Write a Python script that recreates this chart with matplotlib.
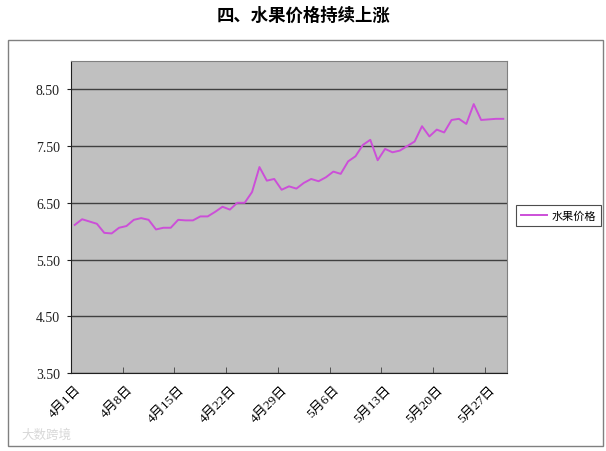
import numpy as np
import matplotlib.pyplot as plt
from matplotlib.patches import Rectangle

plt.rcParams['font.family'] = ['Liberation Serif', 'Noto Sans CJK SC', 'DejaVu Sans']

title = '四、水果价格持续上涨'
series_name = '水果价格'
tick_labels = ['4月1日', '4月8日', '4月15日', '4月22日', '4月29日',
               '5月6日', '5月13日', '5月20日', '5月27日']
prices = [6.11, 6.21, 6.17, 6.13, 5.97, 5.96, 6.06, 6.09, 6.20, 6.23,
          6.20, 6.03, 6.06, 6.06, 6.20, 6.19, 6.19, 6.26, 6.26, 6.34,
          6.43, 6.38, 6.50, 6.50, 6.69, 7.13, 6.89, 6.92, 6.73, 6.79,
          6.75, 6.85, 6.92, 6.88, 6.95, 7.05, 7.01, 7.23, 7.32, 7.52,
          7.61, 7.25, 7.45, 7.39, 7.42, 7.50, 7.58, 7.85, 7.67, 7.79,
          7.74, 7.96, 7.98, 7.89, 8.24, 7.96, 7.97, 7.98, 7.98]
yticks = [3.5, 4.5, 5.5, 6.5, 7.5, 8.5]

fig = plt.figure(figsize=(6.06, 4.52), dpi=100)
fig.patches.append(Rectangle((0.0132, 0.011), 0.9818, 0.898, transform=fig.transFigure,
                             fill=False, edgecolor='#808080', linewidth=1))
fig.text(0.5, 0.965, title, ha='center', va='center', fontsize=12.5,
         fontweight='bold', family=['Noto Sans CJK SC', 'DejaVu Sans'])

ax = fig.add_axes([0.1172, 0.1726, 0.7194, 0.6903])
ax.set_facecolor('#C0C0C0')

x = np.arange(len(prices))
ax.plot(x, prices, color='#CC4FD8', linewidth=1.4, label=series_name)

ax.set_xlim(-0.5, len(prices) - 0.5)
ax.set_ylim(3.5, 9.0)
ax.set_yticks(yticks)
ax.set_yticklabels(['%.2f' % v for v in yticks], fontsize=10)
ax.yaxis.grid(True, color='#404040', linewidth=1)
ax.set_axisbelow(True)
ax.tick_params(axis='y', direction='out', length=3, pad=5, colors='#202020')

ax.set_xticks(np.arange(0, len(prices), 7))
ax.set_xticklabels(tick_labels, rotation=45, ha='right', va='top',
                   rotation_mode='anchor', fontsize=9.5)
ax.tick_params(axis='x', which='major', length=0, pad=7)
ax.set_xticks(np.arange(6.5, len(prices) - 1, 7), minor=True)
ax.tick_params(axis='x', which='minor', direction='in', length=4, color='#404040')

for side in ['left', 'bottom']:
    ax.spines[side].set_color('#202020')
for side in ['top', 'right']:
    ax.spines[side].set_color('#808080')

leg = ax.legend(loc='center left', bbox_to_anchor=(1.02, 0.505), frameon=True,
                fancybox=False, edgecolor='#202020', handlelength=2.4,
                handletextpad=0.35, borderpad=0.45, borderaxespad=0,
                prop={'family': ['Noto Sans CJK SC', 'DejaVu Sans'], 'size': 8})
leg.get_frame().set_linewidth(0.8)

fig.text(0.035, 0.03, '大数跨境', color='#D8D8D8', fontsize=9,
         family=['Noto Sans CJK SC', 'DejaVu Sans'])

fig.savefig('out.png', dpi=100)
